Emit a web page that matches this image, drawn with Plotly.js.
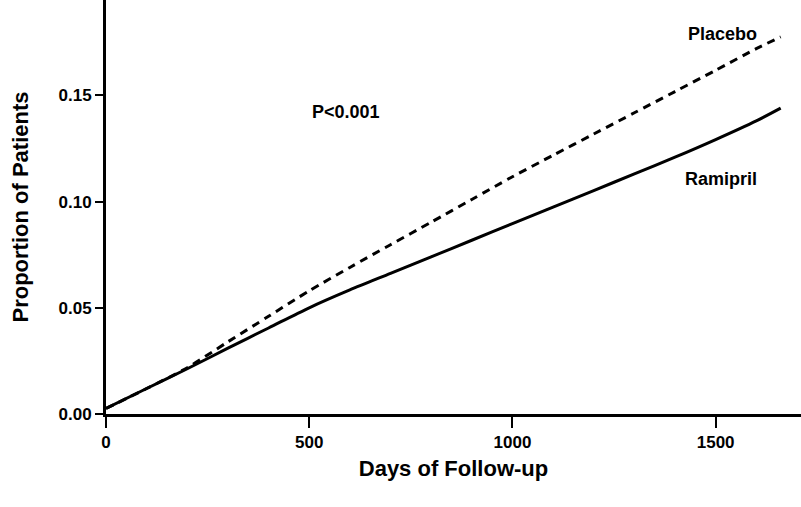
<!DOCTYPE html>
<html>
<head>
<meta charset="utf-8">
<script src="https://cdn.plot.ly/plotly-3.0.1.min.js"></script>
<style>html,body{margin:0;padding:0;background:#fff;}#chart{width:801px;height:507px;}</style>
</head>
<body>
<div id="chart"></div>
<script>
// Days of follow-up
const days = [0, 100, 200, 300, 400, 500, 600, 700, 800, 900, 1000, 1100, 1200, 1300, 1400, 1500, 1600, 1660];
// Proportion of patients with event
const ramipril = [0.0026, 0.0120, 0.0213, 0.0310, 0.0405, 0.0500, 0.0584, 0.0662, 0.0740, 0.0818, 0.0896, 0.0974, 0.1052, 0.1130, 0.1209, 0.1292, 0.1380, 0.1440];
const placebo  = [0.0026, 0.0120, 0.0218, 0.0340, 0.0460, 0.0580, 0.0690, 0.0797, 0.0903, 0.1010, 0.1117, 0.1218, 0.1318, 0.1418, 0.1518, 0.1618, 0.1720, 0.1775];
const xTicks = [0, 500, 1000, 1500];
const xTickText = ['0', '500', '1000', '1500'];
const yTicks = [0, 0.05, 0.10, 0.15];
const yTickText = ['0.00', '0.05', '0.10', '0.15'];

const FONT = 'Arial, "Liberation Sans", Helvetica, sans-serif';

const traces = [
  {x: days, y: placebo, mode: 'lines', name: 'Placebo',
   line: {color: '#000', width: 3, dash: '8px,6px', shape: 'spline', smoothing: 0.8}},
  {x: days, y: ramipril, mode: 'lines', name: 'Ramipril',
   line: {color: '#000', width: 3, shape: 'spline', smoothing: 0.8}}
];

const layout = {
  width: 801, height: 507,
  margin: {l: 106, r: 0, t: 0, b: 93},
  paper_bgcolor: '#fff', plot_bgcolor: '#fff',
  showlegend: false,
  font: {family: FONT, color: '#000'},
  xaxis: {
    range: [0, 1710], tickvals: xTicks, ticktext: xTickText,
    showgrid: false, zeroline: false, showline: true, linecolor: '#000', linewidth: 3,
    ticks: 'outside', ticklen: 11, tickwidth: 2, tickcolor: '#000',
    tickfont: {family: FONT, size: 17, color: '#000', weight: 'bold'},
    title: {text: 'Days of Follow-up', font: {family: FONT, size: 22, color: '#000', weight: 'bold'}, standoff: 10}
  },
  yaxis: {
    range: [0, 0.1949], tickvals: yTicks, ticktext: yTickText,
    showgrid: false, zeroline: false, showline: true, linecolor: '#000', linewidth: 3,
    ticks: 'outside', ticklen: 8, tickwidth: 2, tickcolor: '#000',
    tickfont: {family: FONT, size: 17, color: '#000', weight: 'bold'},
    title: {text: 'Proportion of Patients', font: {family: FONT, size: 22, color: '#000', weight: 'bold'}, standoff: 24}
  },
  annotations: [
    {x: 590, y: 0.1424, xref: 'x', yref: 'y', text: 'P<0.001', showarrow: false,
     font: {family: FONT, size: 18, color: '#000', weight: 'bold'}},
    {x: 1518, y: 0.1788, xref: 'x', yref: 'y', text: 'Placebo', showarrow: false,
     font: {family: FONT, size: 18, color: '#000', weight: 'bold'}},
    {x: 1514, y: 0.1107, xref: 'x', yref: 'y', text: 'Ramipril', showarrow: false,
     font: {family: FONT, size: 18, color: '#000', weight: 'bold'}}
  ]
};

Plotly.newPlot('chart', traces, layout, {displayModeBar: false, staticPlot: true});
</script>
</body>
</html>
